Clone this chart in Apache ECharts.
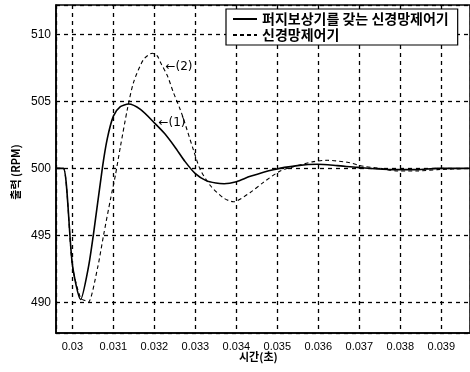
<!DOCTYPE html>
<html><head><meta charset="utf-8">
<script src="https://cdn.jsdelivr.net/npm/echarts@6/dist/echarts.min.js"></script>
<style>html,body{margin:0;padding:0;background:#fff}#c{width:470px;height:372px}</style>
</head><body><div id="c"></div>
<script>
// Time (s) and output (RPM) samples
const seriesNames = ['퍼지보상기를 갖는 신경망제어기', '신경망제어기'];
const t1 = [0.02961,0.02978,0.03,0.0302,0.03039,0.03051,0.03073,0.03085,0.031,0.03117,0.03137,0.03166,0.032,0.03225,0.0325,0.03275,0.033,0.03325,0.0335,0.0337,0.034,0.03434,0.0349,0.03549,0.03598,0.03646,0.03695,0.03783,0.03841,0.0389,0.03971];
const y1 = [500,500,492.8,490.2,492.6,495,500,502.2,503.9,504.6,504.8,504.4,503.4,502.6,501.6,500.5,499.6,499.1,498.9,498.85,499.0,499.4,499.9,500.2,500.3,500.2,500.07,499.9,499.9,500,500];
const t2 = [0.02961,0.02978,0.03,0.0302,0.03032,0.03039,0.03061,0.03076,0.03093,0.03105,0.03117,0.03134,0.03149,0.03173,0.03195,0.03207,0.03215,0.03232,0.03246,0.03263,0.03271,0.03295,0.03312,0.03337,0.03368,0.03393,0.03434,0.03466,0.03507,0.03549,0.03588,0.03622,0.03671,0.0371,0.03751,0.03793,0.03841,0.0389,0.03971];
const y2 = [500,500,492.7,490.3,490.1,490.0,492.5,495,497.7,499.5,501.6,504.4,506.4,508.1,508.6,508.4,507.9,506.9,505.7,504.4,503.7,501.4,499.9,498.7,497.8,497.5,498.2,498.95,499.8,500.2,500.5,500.6,500.45,500.15,500,499.8,499.8,499.9,500];
const xTicks = [0.03,0.031,0.032,0.033,0.034,0.035,0.036,0.037,0.038,0.039];
const yTicks = [490,495,500,505,510];
const annotations = [{text:'←(2)', t:0.03227, v:507.6}, {text:'←(1)', t:0.0321, v:503.4}];

const chart = echarts.init(document.getElementById('c'));
const dash = {type:[4,4], color:'#000', width:1.3};
const pairs = (t,y)=>t.map((v,i)=>[v,y[i]]);
chart.setOption({
  animation:false,
  backgroundColor:'#fff',
  grid:{left:56, right:-2, top:5, bottom:39, show:true, borderColor:'#000', borderWidth:1.5, backgroundColor:'transparent'},
  legend:{
    show:true, orient:'vertical', left:226, top:9,
    backgroundColor:'#fff', borderColor:'#000', borderWidth:1.2, borderRadius:0,
    padding:[3,9,3,6], itemGap:2, itemWidth:24, itemHeight:10,
    itemStyle:{opacity:0},
    textStyle:{fontFamily:'Noto Sans CJK KR', fontWeight:'bold', fontSize:14, color:'#000'},
    data:seriesNames
  },
  xAxis:{
    type:'value', min:0.0296, max:0.0397,
    splitNumber:10,
    axisLine:{show:true, lineStyle:{color:'#000', width:1.5}},
    axisTick:{show:false},
    axisLabel:{showMinLabel:false, showMaxLabel:false, color:'#000', fontFamily:'Liberation Sans', fontSize:11, margin:8,
      formatter:v=>{const r=Math.round(v*1000)/1000; return (v<0.0395 && xTicks.some(x=>Math.abs(x-r)<1e-9))? String(r):'';}},
    splitLine:{show:true, lineStyle:dash}
  },
  yAxis:{
    type:'value', min:487.7, max:512.2, splitNumber:5,
    axisLine:{show:true, lineStyle:{color:'#000', width:1.5}},
    axisTick:{show:false},
    axisLabel:{showMinLabel:false, showMaxLabel:false, color:'#000', fontFamily:'Liberation Sans', fontSize:12, margin:5,
      formatter:v=>yTicks.includes(Math.round(v*1000)/1000)? String(Math.round(v)):''},
    splitLine:{show:true, lineStyle:dash}
  },
  series:[
    {name:seriesNames[0], type:'line', data:pairs(t1,y1), symbol:'none', smooth:0.25,
     lineStyle:{color:'#000', width:1.6, type:'solid'}, itemStyle:{color:'#000'}, z:3},
    {name:seriesNames[1], type:'line', data:pairs(t2,y2), symbol:'none', smooth:0.25,
     lineStyle:{color:'#000', width:1.1, type:[4,3]}, itemStyle:{color:'#000'}, z:2,
     markPoint:{symbol:'circle', symbolSize:0, silent:true,
       data:annotations.map(a=>({coord:[a.t,a.v], label:{show:true, formatter:a.text, position:'right', distance:0, color:'#000', fontFamily:'DejaVu Sans', fontSize:12}}))}}
  ],
  graphic:[
    {type:'text', left:239, top:351, style:{text:'시간(초)', font:'bold 11px "Noto Sans CJK KR"', fill:'#000'}},
    {type:'text', rotation:Math.PI/2, x:16, y:172, style:{text:'출력 (RPM)', font:'bold 11px "Noto Sans CJK KR"', fill:'#000', align:'center', verticalAlign:'middle'}}
  ]
});
</script></body></html>
